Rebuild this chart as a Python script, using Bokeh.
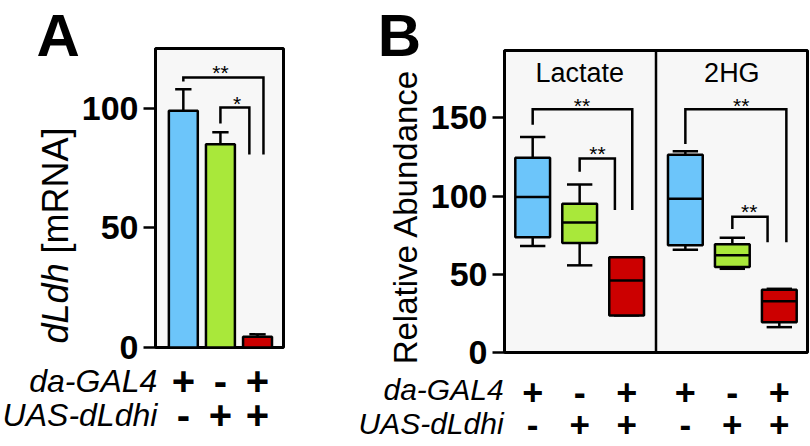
import math
from bokeh.plotting import figure
from bokeh.layouts import row
from bokeh.models import FixedTicker, Range1d
from bokeh.core.properties import value
from bokeh.embed import file_html
from bokeh.resources import INLINE

FONT = "Liberation Sans"
BLUE = "#6cc5fa"
GREEN = "#a9e83a"
RED = "#cc0000"
BOXFILL = "#f7f7f7"
COLORS = [BLUE, GREEN, RED]

# ---------------- data ----------------
# Panel A: dLdh mRNA (bars, mean + upper error)
a_xlim = (0.25, 3.7)
a_ylim = (0, 125)
a_pos = [1, 2, 3]
a_mean = [99, 85, 4.5]
a_err_top = [108, 90, 5.5]
a_ticks = [0, 50, 100]
a_br_left = [1.0, 2.0]
a_br_right = [3.16, 2.78]
a_br_top = [112.9, 100.3]
a_br_lend = [111.2, 93.6]
a_br_rend = [80.7, 80.7]
a_star_text = ["**", "*"]
a_star_x = [2.0, 2.45]
a_star_y = [114.8, 101.8]

gal4 = ["+", "-", "+"]
uas = ["-", "+", "+"]
row_names = ["da-GAL4", "UAS-dLdhi"]

# Panel B: Relative abundance (box plots)
b_xlim = (0.4, 6.85)
b_ylim = (0, 193)
b_groups = ["Lactate", "2HG"]
b_pos = [1, 2, 3, 4.25, 5.25, 6.25]
b_lo = [68.0, 55.7, 23.7, 65.7, 53.5, 16.2]
b_q1 = [73.6, 70.0, 23.7, 68.5, 54.6, 19.4]
b_med = [99.4, 83.0, 46.0, 98.3, 62.1, 32.8]
b_q3 = [124.5, 95.1, 60.8, 126.3, 69.1, 40.1]
b_hi = [137.8, 107.3, 60.8, 128.6, 73.4, 40.7]
b_colors = COLORS + COLORS
b_ticks = [0, 50, 100, 150]
b_divider = 3.625
b_title_x = [2.0, 5.24]
b_title_y = [178.7, 178.7]
b_br_left = [1.0, 2.0, 4.25, 5.25]
b_br_right = [3.12, 2.75, 6.40, 6.0]
b_br_top = [155.5, 124.0, 155.5, 86.8]
b_br_lend = [145.5, 115.5, 133.2, 78.9]
b_br_rend = [91.1, 91.1, 70.4, 70.4]
b_star_x = [2.05, 2.38, 5.44, 5.61]
b_star_y = [158.0, 127.4, 158.0, 89.9]
b_gal4 = gal4 + gal4
b_uas = uas + uas

LW = 2.5
H = 446


def make_fig(width, box_px, xlim, ylim, ticks):
    """Figure whose frame is the whole canvas; the data box sits at box_px (l, r, t, b)."""
    l, r, t, b = box_px
    sx = (r - l) / (xlim[1] - xlim[0])
    sy = (b - t) / (ylim[1] - ylim[0])
    xr = Range1d(xlim[0] - l / sx, xlim[1] + (width - r) / sx)
    yr = Range1d(ylim[0] - (H - b) / sy, ylim[1] + t / sy)
    p = figure(width=width, height=H, x_range=xr, y_range=yr,
               output_backend="svg", toolbar_location=None,
               x_axis_location=None, min_border=0,
               min_border_left=0, min_border_right=0, min_border_top=0, min_border_bottom=0)
    p.grid.visible = False
    p.outline_line_color = None
    p.background_fill_color = "white"
    p.border_fill_color = "white"
    # panel box
    p.quad(left=[xlim[0]], right=[xlim[1]], bottom=[ylim[0]], top=[ylim[1]],
           fill_color=BOXFILL, line_color="black", line_width=3)
    ax = p.yaxis[0]
    ax.fixed_location = xlim[0]
    ax.bounds = ylim
    ax.ticker = FixedTicker(ticks=ticks)
    ax.minor_tick_line_color = None
    ax.major_tick_in = 0
    ax.major_tick_out = 12
    ax.major_tick_line_width = LW
    ax.axis_line_width = 3
    ax.major_label_standoff = 5
    ax.major_label_text_font = FONT
    ax.major_label_text_font_style = "bold"
    ax.major_label_text_font_size = "34px"
    ax.major_label_text_color = "black"
    return p


def txt(p, x, y, text, size, style_="normal", align="left", angle=0.0):
    p.text(x=x, y=y, text=text, text_font=value(FONT), text_font_size=value(size),
           text_font_style=style_, text_align=align, text_baseline="middle",
           angle=angle, text_color="black")


def brackets(p, lefts, rights, tops, lends, rends):
    p.multi_line(xs=[[l, l, r, r] for l, r in zip(lefts, rights)],
                 ys=[[le, t, t, re] for le, t, re in zip(lends, tops, rends)],
                 line_color="black", line_width=LW, line_join="miter")


# ---------------- Panel A ----------------
pa = make_fig(300, (155, 283, 48, 347), a_xlim, a_ylim, a_ticks)

pa.segment(x0=a_pos, y0=a_mean, x1=a_pos, y1=a_err_top, line_color="black", line_width=LW)
pa.segment(x0=[x - 0.22 for x in a_pos], y0=a_err_top, x1=[x + 0.22 for x in a_pos], y1=a_err_top,
           line_color="black", line_width=LW)
pa.vbar(x=a_pos, top=a_mean, width=0.78, fill_color=COLORS, line_color="black", line_width=LW)
brackets(pa, a_br_left, a_br_right, a_br_top, a_br_lend, a_br_rend)
txt(pa, a_star_x, a_star_y, a_star_text, "21px", align="center")

txt(pa, [-2.96], [130.5], ["A"], "60px", "bold")
txt(pa, [-2.432], [1.7], ["dLdh"], "36px", "italic", angle=math.pi / 2)
txt(pa, [-2.432], [39.3], ["[mRNA]"], "36px", angle=math.pi / 2)
txt(pa, [0.30, 0.30], [-13.8, -28.4], row_names, "32px", "italic", align="right")
txt(pa, a_pos, [-13.8] * len(a_pos), gal4, "40px", "bold", align="center")
txt(pa, a_pos, [-28.4] * len(a_pos), uas, "40px", "bold", align="center")

# ---------------- Panel B ----------------
pb = make_fig(510, (204, 507, 50, 352), b_xlim, b_ylim, b_ticks)

pb.segment(x0=b_pos, y0=b_q3, x1=b_pos, y1=b_hi, line_color="black", line_width=LW)
pb.segment(x0=b_pos, y0=b_q1, x1=b_pos, y1=b_lo, line_color="black", line_width=LW)
pb.segment(x0=[x - 0.27 for x in b_pos], y0=b_hi, x1=[x + 0.27 for x in b_pos], y1=b_hi,
           line_color="black", line_width=LW)
pb.segment(x0=[x - 0.27 for x in b_pos], y0=b_lo, x1=[x + 0.27 for x in b_pos], y1=b_lo,
           line_color="black", line_width=LW)
pb.vbar(x=b_pos, bottom=b_q1, top=b_q3, width=0.74, fill_color=b_colors,
        line_color="black", line_width=LW)
pb.segment(x0=[x - 0.37 for x in b_pos], y0=b_med, x1=[x + 0.37 for x in b_pos], y1=b_med,
           line_color="black", line_width=LW)
pb.segment(x0=[b_divider], y0=[b_ylim[0]], x1=[b_divider], y1=[b_ylim[1]],
           line_color="black", line_width=LW)
brackets(pb, b_br_left, b_br_right, b_br_top, b_br_lend, b_br_rend)
txt(pb, b_star_x, b_star_y, ["**"] * len(b_star_x), "21px", align="center")
txt(pb, b_title_x, b_title_y, b_groups, "27px", align="center")

txt(pb, [-2.30], [202.6], ["B"], "60px", "bold")
txt(pb, [-1.707], [86.8], ["Relative Abundance"], "33px", align="center", angle=math.pi / 2)
txt(pb, [0.38, 0.38], [-23.4, -45.3], row_names, "30px", "italic", align="right")
txt(pb, b_pos, [-25.5] * len(b_pos), b_gal4, "36px", "bold", align="center")
txt(pb, b_pos, [-46.6] * len(b_pos), b_uas, "35px", "bold", align="center")

layout = row(pa, pb)
open("out.html", "w").write(file_html(layout, INLINE))
